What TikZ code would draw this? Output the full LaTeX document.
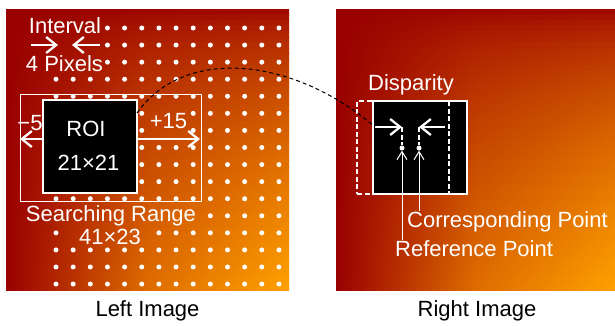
\documentclass[tikz,border=0pt]{standalone}
\usepackage{fontspec}
\setmainfont{Liberation Sans}
\usetikzlibrary{arrows.meta}
\definecolor{imgred}{RGB}{153,0,0}
\definecolor{imgorange}{RGB}{255,160,0}

\begin{document}
\begin{tikzpicture}[x=1pt,y=-1pt,>={Straight Barb[length=10pt,width=16pt]},
	lbl/.style={text=white,font=\fontsize{22}{26}\selectfont,inner sep=1pt},
	caption/.style={text=black,font=\fontsize{22}{26}\selectfont,inner sep=1pt},
	pixel dot/.style={circle,fill=white,inner sep=0pt,minimum size=5pt},
	roi box/.style={draw=white,line width=1.5pt,fill=black,minimum width=94pt,minimum height=93pt,inner sep=0pt},
	range box/.style={draw=white,line width=1pt,minimum width=181pt,minimum height=107pt,inner sep=0pt},
	shift box/.style={draw=white,line width=1.5pt,dash pattern=on 5pt off 2.5pt,minimum width=92pt,minimum height=93pt,inner sep=0pt},
	wide arrow/.style={->,white,line width=2.3pt},
	thin arrow/.style={-{Straight Barb[length=8pt,width=10pt]},white,line width=1pt},
	white dashes/.style={white,line width=1.5pt,dash pattern=on 5pt off 2.5pt},
	link/.style={black,line width=1pt,dash pattern=on 4pt off 3pt}]

	\useasboundingbox (0,0) rectangle (615,325);

	%both images, shaded in strips
	\foreach \xo/\imgw in {6/283,336/279}{
		\foreach \k in {0,...,49}{
			\pgfmathsetmacro\ya{9+\k*5.62}
			\pgfmathsetmacro\yb{min(\ya+6.62,290)}
			\pgfmathsetmacro\v{100*((\k+0.5)/50)^0.6}
			\pgfmathsetmacro\vm{\v*0.68}
			\shade[left color=imgred,right color=imgorange!\v!imgred,middle color=imgorange!\vm!imgred]
				(\xo,\ya) rectangle (\xo+\imgw,\yb);
		}
	}

	%pixel grid of the left image
	\foreach \j/\cl in {0/{3,...,13},1/{3,...,13},2/{3,...,13},3/{0,...,13},4/{0,...,13},
		5/{5,8,9,10,11,12,13},6/{5,8,9,10,11,12,13},7/{5,...,13},8/{5,...,13},9/{5,...,13},
		10/{0,...,13},11/{9,...,13},12/{0,6,7,8,9,10,11,12,13},13/{0,...,13},14/{0,...,13},15/{0,...,13}}{
		\foreach \i in \cl{
			\node[pixel dot] at (56+17.15*\i,28+17.07*\j) {};
		}
	}

	%left image
	\node[range box] (range) at (110.5,147.5) {};
	\node[roi box] (roi) at (90,146.5) {};
	\node[lbl,anchor=base] (roitxt) at (86,136.7) {ROI};
	\node[lbl,anchor=base] (roisize) at (88.5,170.7) {21×21};
	\node[lbl,anchor=base] (interval) at (65,33) {Interval};
	\node[lbl,anchor=base] (pixels) at (64.5,71.7) {4 Pixels};
	\node[lbl,anchor=base] (minus) at (30,130) {−5};
	\node[lbl,anchor=base] (plus) at (168.5,128) {+15};
	\node[lbl,anchor=base] (rangetxt) at (111,221.7) {Searching Range};
	\node[lbl,anchor=base] (rangesize) at (110,244) {41×23};

	\coordinate (ivlA) at (31,45);
	\coordinate (ivlB) at (58,45);
	\coordinate (ivlC) at (100,45);
	\coordinate (ivlD) at (72,45);
	\draw[wide arrow] (ivlA) -- (ivlB);
	\draw[wide arrow] (ivlC) -- (ivlD);
	\coordinate (minustip) at (20,139);
	\coordinate (plustip) at (200,139);
	\draw[wide arrow] (roi.west |- minustip) -- (minustip);
	\draw[wide arrow] (roi.east |- plustip) -- (plustip);

	%right image
	\node[roi box] (disp) at (420,147.5) {};
	\node[shift box] (shift) at (403,147.5) {};
	\node[lbl,anchor=base] (disptxt) at (411,90) {Disparity};
	\coordinate (disptail) at (375,127);
	\coordinate (refarr) at (402,127);
	\coordinate (corrtail) at (445,127);
	\coordinate (corrarr) at (419,127);
	\node[pixel dot] (refdot) at (402,148) {};
	\node[pixel dot] (corrdot) at (419,148) {};
	\draw[wide arrow] (disptail) -- (refarr);
	\draw[wide arrow] (corrtail) -- (corrarr);
	\draw[white dashes] (refarr) -- (refdot);
	\draw[white dashes] (corrarr) -- (corrdot);
	\node[lbl,anchor=base west] (corrtxt) at (406,227.7) {Corresponding Point};
	\node[lbl,anchor=base west] (reftxt) at (394,256.7) {Reference Point};
	\draw[thin arrow] (refdot |- reftxt.north) -- (refdot);
	\draw[thin arrow] (corrdot |- corrtxt.north) -- (corrdot);

	%link between the two
	\coordinate (linkstart) at (137,113);
	\draw[link] (linkstart) .. controls (185,45) and (295,58) .. (disptail);

	%captions
	\node[caption,anchor=base] (leftcap) at (147.5,316.7) {Left Image};
	\node[caption,anchor=base] (rightcap) at (477,316.7) {Right Image};

\end{tikzpicture}
\end{document}
